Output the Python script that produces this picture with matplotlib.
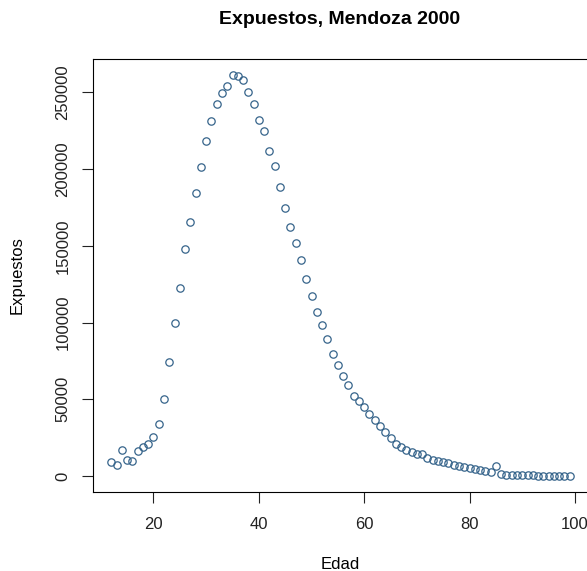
import numpy as np
import matplotlib.pyplot as plt

plt.rcParams['font.family'] = ['Liberation Sans', 'DejaVu Sans']

edad = np.arange(12, 100)
expuestos = [
    9400, 7000, 17000, 10600, 9800, 16300, 18700, 20700, 25400, 33700,
    50400, 74500, 99500, 122400, 148000, 165600, 184300, 201500, 218200, 231500,
    242300, 249500, 254300, 261200, 260600, 258000, 250200, 242300, 231900, 224500,
    211500, 201700, 188400, 174300, 162500, 151700, 141000, 128600, 117600, 106900,
    98300, 89100, 79500, 72400, 65200, 59100, 52400, 48900, 45000, 40400,
    36300, 32400, 28500, 24800, 21100, 18700, 17000, 15500, 14300, 14500,
    11900, 10600, 10000, 8900, 8200, 7400, 6800, 5900, 5200, 4600,
    3900, 3500, 2800, 6700, 1100, 900, 750, 650, 550, 450,
    380, 320, 260, 200, 160, 120, 90, 60,
]

fig = plt.figure(figsize=(5.87, 5.71), dpi=100)
ax = fig.add_axes([93 / 587, 79 / 571, 495 / 587, 433 / 571])

ax.plot(edad, expuestos, linestyle='none', marker='o', markersize=5.3,
        markerfacecolor='none', markeredgecolor='#36648B', markeredgewidth=0.9)

# R-style ranges: 4% padding on each side
xr = max(edad) - min(edad)
ax.set_xlim(min(edad) - 0.04 * xr, max(edad) + 0.04 * xr)
yr = max(expuestos) - min(expuestos)
ax.set_ylim(min(expuestos) - 0.04 * yr, max(expuestos) + 0.04 * yr)

ax.set_xticks([20, 40, 60, 80, 100])
ax.set_yticks([0, 50000, 100000, 150000, 200000, 250000])
ax.set_yticklabels(['0', '50000', '100000', '150000', '200000', '250000'],
                   rotation=90, va='center')
ax.tick_params(length=7.7, width=0.8, labelsize=12, pad=10.5, colors='#222222')
ax.tick_params(axis='y', pad=8.6)
for s in ax.spines.values():
    s.set_linewidth(0.8)

ax.set_xlabel('Edad', fontsize=12, labelpad=17.7)
ax.set_ylabel('Expuestos', fontsize=12, labelpad=22)
fig.text(340 / 587, 1 - 20 / 571, 'Expuestos, Mendoza 2000', ha='center', va='center',
         fontsize=14, fontweight='bold')

fig.savefig('out.png', dpi=100)
